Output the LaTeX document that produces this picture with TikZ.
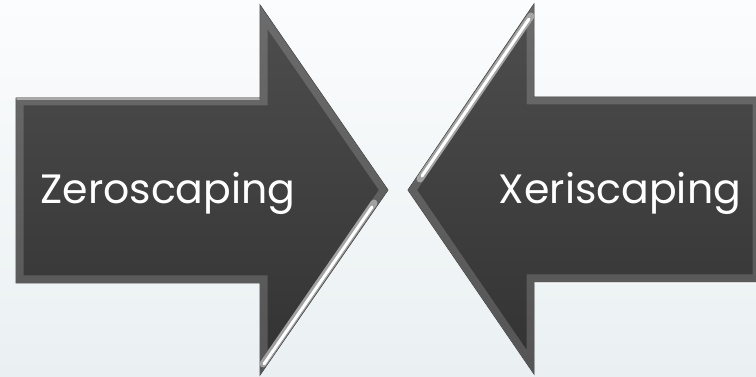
\documentclass[tikz,border=0pt]{standalone}
\usepackage{fontspec}
\usepackage{tikz}
\usetikzlibrary{positioning,calc}
\newfontfamily\gothicfont{Poppins}
\definecolor{bgtop}{RGB}{251, 252, 253}
\definecolor{bgbottom}{RGB}{234, 240, 242}
\definecolor{arrowtop}{RGB}{78, 78, 78}
\definecolor{arrowbottom}{RGB}{50, 50, 50}
\definecolor{arrowedge}{RGB}{60, 60, 60}

\tikzset{
  arrowbody/.style={top color=arrowtop, bottom color=arrowbottom, draw=arrowedge, line width=0.8pt},
  bevelband/.style={draw=white, line width=15pt, opacity=0.17, line join=miter},
  glow/.style={draw=gray!50, line width=7pt, line cap=round, opacity=0.7},
  shine/.style={draw=white, line width=3pt, line cap=round},
  arrowtext/.style={text=white, font=\gothicfont\fontsize{41}{46}\selectfont, inner sep=0pt, anchor=base}
}

\begin{document}
\begin{tikzpicture}[x=1pt, y=-1pt]
        % Background
        \fill[top color=bgtop, bottom color=bgbottom] (0,0) rectangle (756,377);
        \useasboundingbox (0,0) rectangle (756,377);

        % Left arrow (points right)
        \draw[arrowbody] (16,98) -- (260,98) -- (260,5) -- (388,190) -- (260,375) -- (260,283) -- (16,283) -- cycle;
        \begin{scope}
          \clip (16,98) -- (260,98) -- (260,5) -- (388,190) -- (260,375) -- (260,283) -- (16,283) -- cycle;
          \draw[bevelband] (16,98) -- (260,98) -- (260,5) -- (388,190) -- (260,375) -- (260,283) -- (16,283) -- cycle;
          \draw[glow] (263,364) -- (374,203);
          \draw[shine] (264,364) -- (372,207);
        \end{scope}
        \draw[shine, opacity=0.45, line width=1.5pt] (17,99) -- (259,99);

        % Right arrow (points left)
        \draw[arrowbody] (760,97) -- (534,97) -- (534,4) -- (408,190) -- (534,374) -- (534,282) -- (760,282) -- cycle;
        \begin{scope}
          \clip (760,97) -- (534,97) -- (534,4) -- (408,190) -- (534,374) -- (534,282) -- (760,282) -- cycle;
          \draw[bevelband] (760,97) -- (534,97) -- (534,4) -- (408,190) -- (534,374) -- (534,282) -- (760,282) -- cycle;
          \draw[glow] (531,16) -- (420,179);
          \draw[shine] (529,19) -- (422,176);
        \end{scope}
        \draw[shine, opacity=0.45, line width=1.5pt] (535,283) -- (756,283);

        % Labels
        \node[arrowtext] (zero) at (168,204) {Zeroscaping};
        \node[arrowtext] (xeri) at (620,204) {Xeriscaping};
\end{tikzpicture}
\end{document}
